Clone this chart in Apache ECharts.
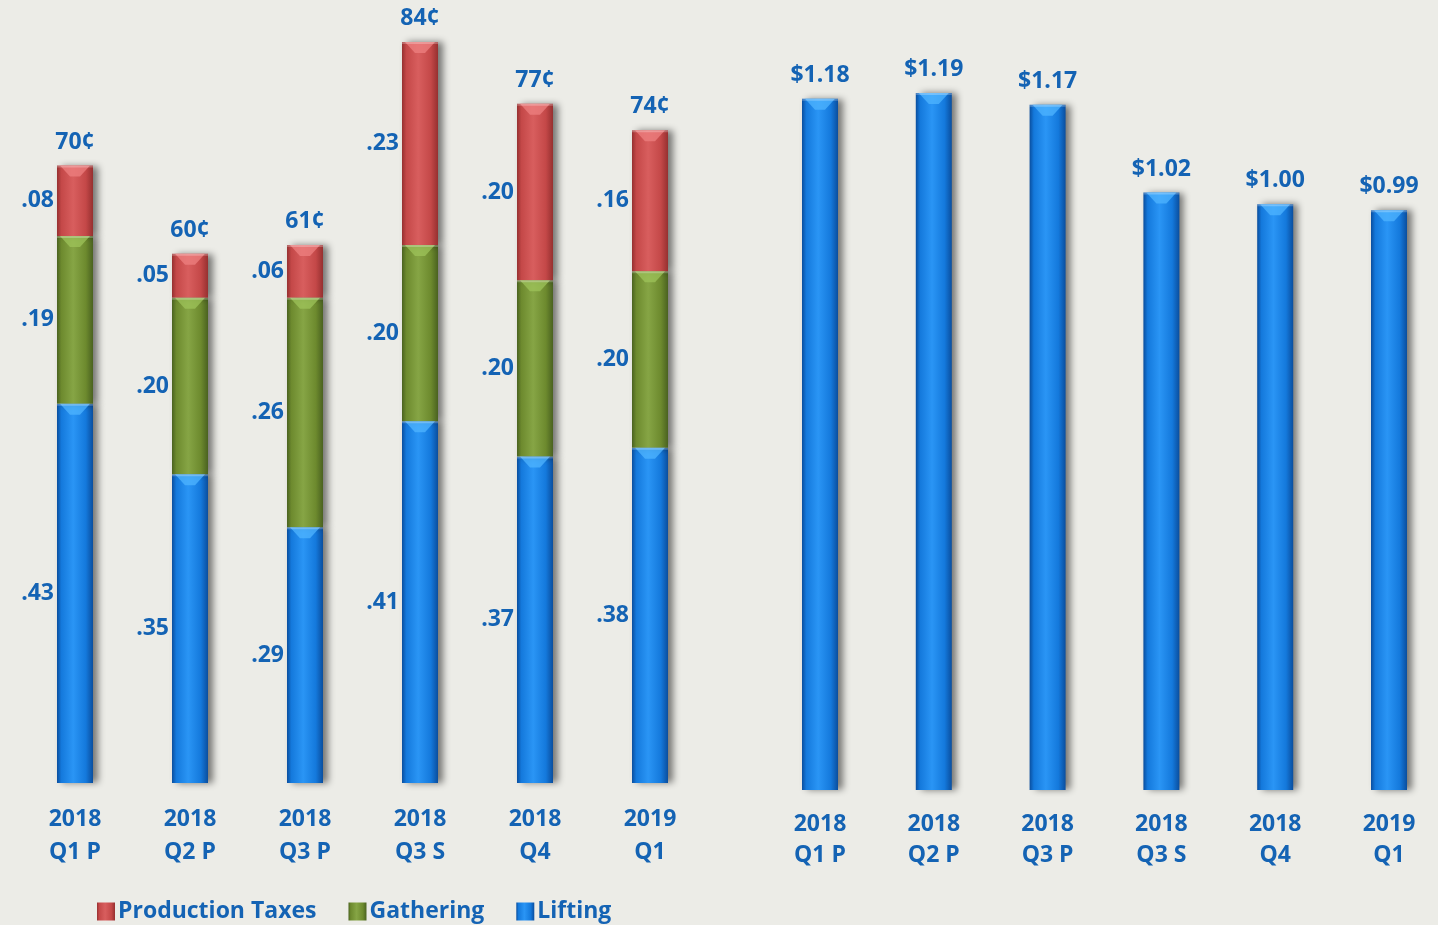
<!DOCTYPE html>
<html>
<head>
<meta charset="utf-8">
<script src="https://cdn.jsdelivr.net/npm/echarts@6/dist/echarts.min.js"></script>
<style>
html,body{margin:0;padding:0;background:#ecece7;}
#chart{width:1438px;height:925px;}
</style>
</head>
<body>
<div id="chart"></div>
<script>
const categories = ['2018\nQ1 P', '2018\nQ2 P', '2018\nQ3 P', '2018\nQ3 S', '2018\nQ4', '2019\nQ1'];
const lifting = [0.43, 0.35, 0.29, 0.41, 0.37, 0.38];
const gathering = [0.19, 0.20, 0.26, 0.20, 0.20, 0.20];
const productionTaxes = [0.08, 0.05, 0.06, 0.23, 0.20, 0.16];
const totalLabels = ['70¢', '60¢', '61¢', '84¢', '77¢', '74¢'];
const totalCost = [1.18, 1.19, 1.17, 1.02, 1.00, 0.99];

const FONT = 'Open Sans';
const TXT = '#1463b4';
const FS = 23;
const BW = 36;

function grad(edge, mid, light) {
  return new echarts.graphic.LinearGradient(0, 0, 1, 0, [
    {offset: 0, color: edge},
    {offset: 0.12, color: mid},
    {offset: 0.45, color: light},
    {offset: 0.8, color: mid},
    {offset: 1, color: edge}
  ]);
}
const blueFill = grad('#0a4e9e', '#1479dc', '#2a95f5');
const greenFill = grad('#4a6220', '#6d8a2e', '#86a545');
const redFill = grad('#963030', '#c44848', '#d85e5e');
const capColors = ['#4fb4ff', '#9dc35a', '#ee8080'];

const shadow = {shadowColor: 'rgba(0,0,0,0.5)', shadowBlur: 7, shadowOffsetX: 5, shadowOffsetY: 0};
const segLabel = {
  show: true, position: 'left', distance: 3, color: TXT, fontFamily: FONT,
  fontWeight: 'bold', fontSize: FS,
  formatter: p => p.value.toFixed(2).replace(/^0/, '')
};
const axisLabel = {color: TXT, fontFamily: FONT, fontWeight: 'bold', fontSize: FS, lineHeight: 32, interval: 0};

// segment tops for the bevel caps, built from the series arrays
const leftCaps = categories.map((c, i) => [i, lifting[i], lifting[i] + gathering[i], lifting[i] + gathering[i] + productionTaxes[i]]);
const rightCaps = categories.map((c, i) => [i, totalCost[i]]);

function capRender(params, api) {
  const i = api.value(0);
  const children = [];
  const dims = params.seriesIndex === 5 ? [1, 2, 3] : [1];
  dims.forEach((d, k) => {
    const p = api.coord([i, api.value(d)]);
    const half = BW / 2;
    const col = params.seriesIndex === 5 ? capColors[k] : capColors[0];
    children.push({
      type: 'polygon',
      shape: {points: [[p[0] - half + 3, p[1]], [p[0] + half - 3, p[1]], [p[0] + 5, p[1] + 11], [p[0] - 5, p[1] + 11]]},
      style: {fill: col, opacity: 0.75}
    });
    children.push({
      type: 'rect',
      shape: {x: p[0] - half, y: p[1], width: BW, height: 2},
      style: {fill: 'rgba(255,255,255,0.25)'}
    });
  });
  return {type: 'group', children: children};
}

const chart = echarts.init(document.getElementById('chart'));
chart.setOption({
  backgroundColor: '#ecece7',
  animation: false,
  legend: {
    data: [
      {name: 'Production Taxes', itemStyle: {color: redFill}},
      {name: 'Gathering', itemStyle: {color: greenFill}},
      {name: 'Lifting', itemStyle: {color: blueFill}}
    ],
    left: 92, top: 895, itemWidth: 18, itemHeight: 18, itemGap: 32,
    icon: 'rect',
    textStyle: {color: TXT, fontFamily: FONT, fontWeight: 'bold', fontSize: FS, padding: [0, 0, 0, -2]}
  },
  grid: [
    {left: 17.5, width: 690, top: 42, bottom: 142},
    {left: 820, right: 49, top: 93, bottom: 135}
  ],
  xAxis: [
    {type: 'category', gridIndex: 0, data: categories, axisLine: {show: false}, axisTick: {show: false},
     axisLabel: Object.assign({}, axisLabel, {margin: 20, lineHeight: 33})},
    {type: 'category', gridIndex: 1, data: categories, boundaryGap: false, axisLine: {show: false}, axisTick: {show: false},
     axisLabel: Object.assign({}, axisLabel, {margin: 19, lineHeight: 31})}
  ],
  yAxis: [
    {type: 'value', gridIndex: 0, min: 0, max: 0.84, show: false, splitLine: {show: false}},
    {type: 'value', gridIndex: 1, min: 0, max: 1.19, show: false, splitLine: {show: false}}
  ],
  series: [
    {name: 'Lifting', type: 'bar', stack: 'a', xAxisIndex: 0, yAxisIndex: 0, barWidth: BW,
     data: lifting, itemStyle: Object.assign({color: blueFill}, shadow), label: segLabel},
    {name: 'Gathering', type: 'bar', stack: 'a', xAxisIndex: 0, yAxisIndex: 0, barWidth: BW,
     data: gathering, itemStyle: Object.assign({color: greenFill}, shadow), label: segLabel},
    {name: 'Production Taxes', type: 'bar', stack: 'a', xAxisIndex: 0, yAxisIndex: 0, barWidth: BW,
     data: productionTaxes, itemStyle: Object.assign({color: redFill}, shadow), label: segLabel},
    {name: 'Total', type: 'bar', stack: 'a', xAxisIndex: 0, yAxisIndex: 0, barWidth: BW,
     data: totalLabels.map(() => 0), itemStyle: {color: 'transparent'},
     label: {show: true, position: 'top', distance: 12, color: TXT, fontFamily: FONT, fontWeight: 'bold', fontSize: FS,
             formatter: p => totalLabels[p.dataIndex]}},
    {name: 'Total Cost', type: 'bar', xAxisIndex: 1, yAxisIndex: 1, barWidth: BW, clip: false,
     data: totalCost, itemStyle: Object.assign({color: blueFill}, shadow),
     label: {show: true, position: 'top', distance: 12, color: TXT, fontFamily: FONT, fontWeight: 'bold', fontSize: FS,
             formatter: p => '$' + p.value.toFixed(2)}},
    {name: 'capsLeft', type: 'custom', xAxisIndex: 0, yAxisIndex: 0, data: leftCaps, renderItem: capRender, silent: true, clip: false, z: 3},
    {name: 'capsRight', type: 'custom', xAxisIndex: 1, yAxisIndex: 1, data: rightCaps, renderItem: capRender, silent: true, clip: false, z: 3}
  ]
});
</script>
</body>
</html>
